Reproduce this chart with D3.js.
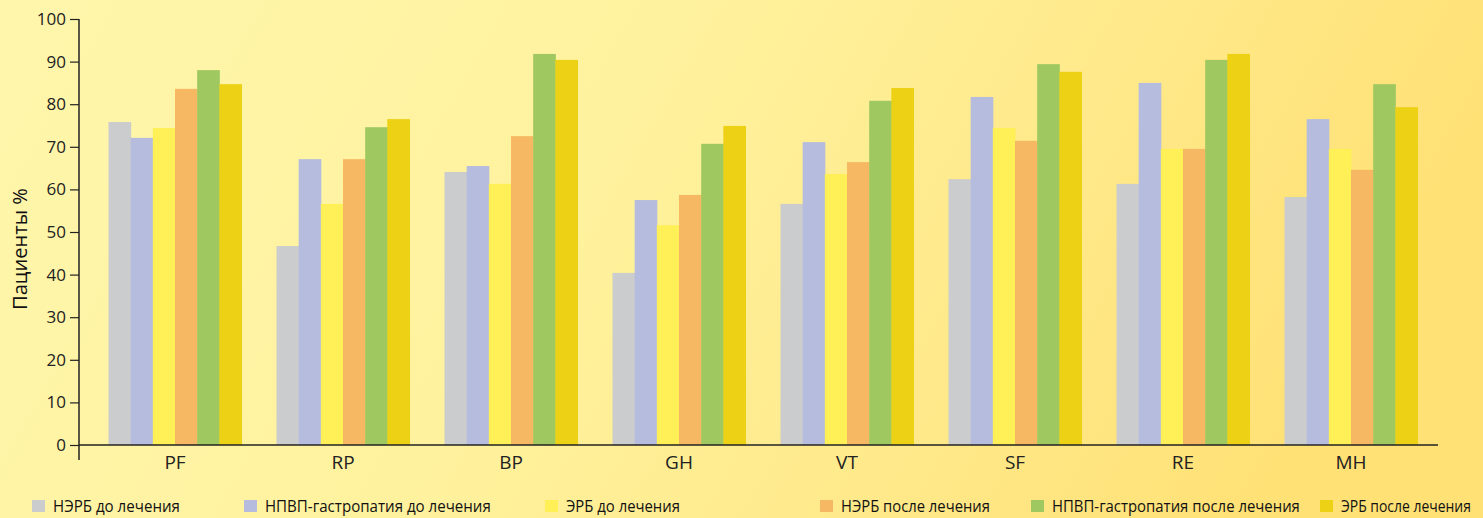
<!DOCTYPE html>
<html><head><meta charset="utf-8">
<script src="https://cdn.jsdelivr.net/npm/d3@7"></script>
<style>body{margin:0;padding:0;overflow:hidden}</style>
</head><body>
<svg id="chart" width="1483" height="518"></svg>
<script>
const categories = ["PF","RP","BP","GH","VT","SF","RE","MH"];
const seriesNames = ["НЭРБ до лечения","НПВП-гастропатия до лечения","ЭРБ до лечения","НЭРБ после лечения","НПВП-гастропатия после лечения","ЭРБ после лечения"];
const nerbBefore  = [75.8, 46.7, 64.1, 40.4, 56.6, 62.4, 61.3, 58.2];
const nsaidBefore = [72.1, 67.1, 65.5, 57.5, 71.1, 81.7, 85.0, 76.5];
const erbBefore   = [74.4, 56.6, 61.3, 51.6, 63.6, 74.4, 69.5, 69.5];
const nerbAfter   = [83.6, 67.1, 72.5, 58.7, 66.4, 71.4, 69.5, 64.6];
const nsaidAfter  = [88.0, 74.6, 91.8, 70.7, 80.8, 89.4, 90.4, 84.7];
const erbAfter    = [84.7, 76.5, 90.4, 74.9, 83.8, 87.6, 91.8, 79.3];
const yTicks = [0,10,20,30,40,50,60,70,80,90,100];
const colors = ["#cbcccd","#b6bcdd","#fef056","#f6b863","#9fc861","#edd115"];
const series = [nerbBefore, nsaidBefore, erbBefore, nerbAfter, nsaidAfter, erbAfter];

const svg = d3.select("#chart");
const defs = svg.append("defs");
const grad = defs.append("linearGradient").attr("id","bg").attr("x1","0").attr("x2","1").attr("y1","0").attr("y2","0.2");
grad.append("stop").attr("offset","0").attr("stop-color","#fff6ac");
grad.append("stop").attr("offset","0.45").attr("stop-color","#fff29e");
grad.append("stop").attr("offset","0.75").attr("stop-color","#ffe98a");
grad.append("stop").attr("offset","1").attr("stop-color","#ffe176");
svg.append("rect").attr("width",1483).attr("height",518).attr("fill","url(#bg)");

const y = d3.scaleLinear().domain([0,100]).range([445,19]);
const x0 = d3.scaleBand().domain(categories).range([91,1435]).paddingInner(0).paddingOuter(0);
const groupW = 133;
const x1 = d3.scaleBand().domain(d3.range(6)).range([0,groupW]).padding(0);

const g = svg.append("g");
categories.forEach((c,i)=>{
  const gx = x0(c) + (x0.bandwidth()-groupW)/2;
  series.forEach((s,j)=>{
    g.append("rect")
      .attr("x", gx + x1(j))
      .attr("y", y(s[i]))
      .attr("width", x1.bandwidth()+0.5)
      .attr("height", y(0)-y(s[i]))
      .attr("fill", colors[j]);
  });
});

const font = "'Open Sans', 'Noto Sans', sans-serif";

// y axis
const yAxis = svg.append("g").attr("transform","translate(79,0)")
  .call(d3.axisLeft(y).tickValues(yTicks).tickSize(9).tickPadding(4));
yAxis.select(".domain").attr("stroke","#222").attr("stroke-width",1.5).attr("d","M0,19V460");
yAxis.selectAll(".tick line").attr("stroke","#222").attr("stroke-width",1.2);
yAxis.selectAll(".tick text").attr("fill","#222").style("font-family",font).style("font-size","17px");

// x axis line
const xAxis = svg.append("g").attr("transform","translate(0,445)")
  .call(d3.axisBottom(x0).tickSize(0).tickPadding(11));
xAxis.select(".domain").attr("stroke","#222").attr("stroke-width",1.5).attr("d","M79,0H1438");
xAxis.selectAll(".tick text").attr("fill","#222").style("font-family",font).style("font-size","19px");

// y label
svg.append("text").attr("transform","translate(27,249) rotate(-90)")
  .attr("text-anchor","middle").attr("fill","#111")
  .attr("textLength",122).attr("lengthAdjust","spacingAndGlyphs")
  .style("font-family",font).style("font-size","20px")
  .text("Пациенты %");

// legend
const legendX = [32, 244, 545, 820, 1031, 1320];
const legendW = [127, 226, 114, 149, 248, 130];
seriesNames.forEach((n,j)=>{
  svg.append("rect").attr("x",legendX[j]).attr("y",500).attr("width",13).attr("height",12).attr("fill",colors[j]);
  const t = svg.append("text").attr("x",0).attr("y",0).attr("fill","#111")
    .style("font-family",font).style("font-size","17px")
    .text(n);
  const w = t.node().getComputedTextLength() || legendW[j];
  t.attr("transform",`translate(${legendX[j]+21},512) scale(${legendW[j]/w},1)`);
});
</script>
</body></html>
